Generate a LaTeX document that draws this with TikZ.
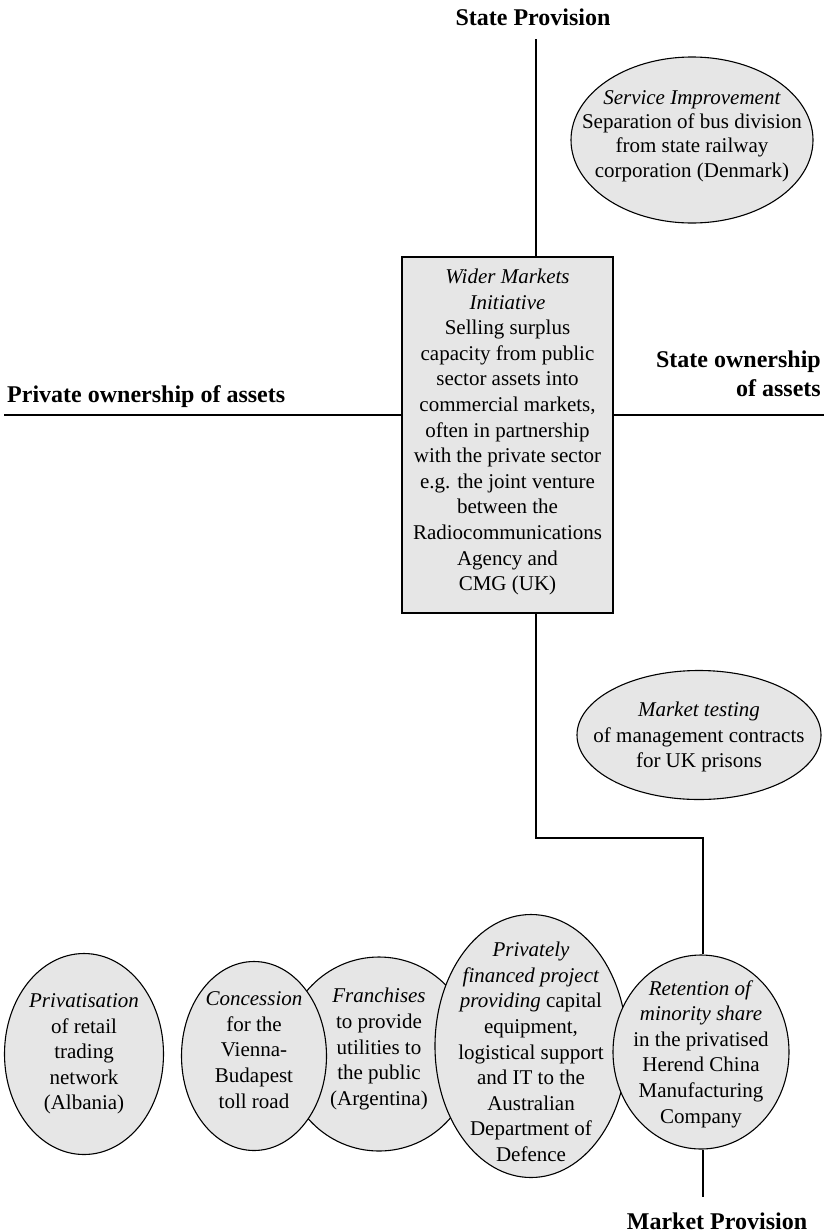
\documentclass[tikz,border=0pt]{standalone}
\usepackage{fontspec}
\setmainfont{Liberation Serif}
\usetikzlibrary{shapes.geometric}
\definecolor{fillgray}{RGB}{230,230,230}
\begin{document}
\begin{tikzpicture}[x=1pt,y=-1pt,
  axis/.style={line width=2pt},
  oval/.style={ellipse, draw, line width=1.1pt, fill=fillgray, inner sep=0pt},
  txt/.style={align=center, font=\fontsize{21}{25.6}\selectfont, inner sep=0pt},
  lbl/.style={font=\bfseries\fontsize{24}{29}\selectfont, inner sep=0pt}]
\useasboundingbox (0,0) rectangle (824,1232);

% axis labels
\node[lbl] (sp) at (533,17) {State Provision};
\node[lbl] (mp) at (717,1221) {Market Provision};
\node[lbl, anchor=base west] (po) at (7,402) {Private ownership of assets};
\node[lbl, align=right, anchor=east] (so) at (821,374) {State ownership\\of assets};

% central box
\node[draw, line width=1.2pt, fill=fillgray, minimum width=211pt, minimum height=356pt, inner sep=0pt] (wmi) at (507.5,435) {};
\node[txt] (wmitxt) at (507.5,432) {\textit{Wider Markets}\\\textit{Initiative}\\Selling surplus\\capacity from public\\sector assets into\\commercial markets,\\often in partnership\\with the private sector\\e.g. the joint venture\\between the\\Radiocommunications\\Agency and\\CMG (UK)};

% ellipses
\node[oval, minimum width=242pt, minimum height=166pt] (si) at (692,140) {};
\node[oval, minimum width=244pt, minimum height=129pt] (mt) at (699,735) {};
\node[oval, minimum width=159pt, minimum height=201pt] (pr) at (84,1054) {};
\node[oval, minimum width=190pt, minimum height=194pt] (fr) at (379,1054) {};
\node[oval, minimum width=145pt, minimum height=189pt] (co) at (254,1056) {};
\node[oval, minimum width=192pt, minimum height=263pt] (pf) at (531,1046) {};
\node[oval, minimum width=176pt, minimum height=194pt] (ret) at (701,1052) {};

% axis lines
\coordinate (vt) at (536,39);
\coordinate (hl) at (4,415);
\coordinate (hr) at (824,415);
\coordinate (b1) at (536,838);
\coordinate (b2) at (703,838);
\coordinate (vb) at (703,1197);
\draw[axis] (vt) -- (vt |- wmi.north);
\draw[axis] (hl) -- (hl -| wmi.west);
\draw[axis] (hr -| wmi.east) -- (hr);
\draw[axis] (vt |- wmi.south) -- (b1) -- (b2) -- (b2 |- ret.north);
\draw[axis] (b2 |- ret.south) -- (vb);

% ellipse texts
\node[txt, font=\fontsize{21}{24.3}\selectfont] (sitxt) at (si.center) [yshift=4pt] {\textit{Service Improvement}\\Separation of bus division\\from state railway\\corporation (Denmark)};
\node[txt] (mttxt) at (mt.center) [yshift=-2pt] {\textit{Market testing}\\of management contracts\\for UK prisons};
\node[txt] (prtxt) at (pr.center) {\textit{Privatisation}\\of retail\\trading\\network\\(Albania)};
\node[txt] (cotxt) at (co.center) [yshift=6pt] {\textit{Concession}\\for the\\Vienna-\\Budapest\\toll road};
\node[txt] (frtxt) at (fr.center) [yshift=5pt] {\textit{Franchises}\\to provide\\utilities to\\the public\\(Argentina)};
\node[txt] (pftxt) at (pf.center) [yshift=-6pt] {\textit{Privately}\\\textit{financed project}\\\textit{providing} capital\\equipment,\\logistical support\\and IT to the\\Australian\\Department of\\Defence};
\node[txt] (rettxt) at (ret.center) [yshift=-2pt] {\textit{Retention of}\\\textit{minority share}\\in the privatised\\Herend China\\Manufacturing\\Company};
\end{tikzpicture}
\end{document}
